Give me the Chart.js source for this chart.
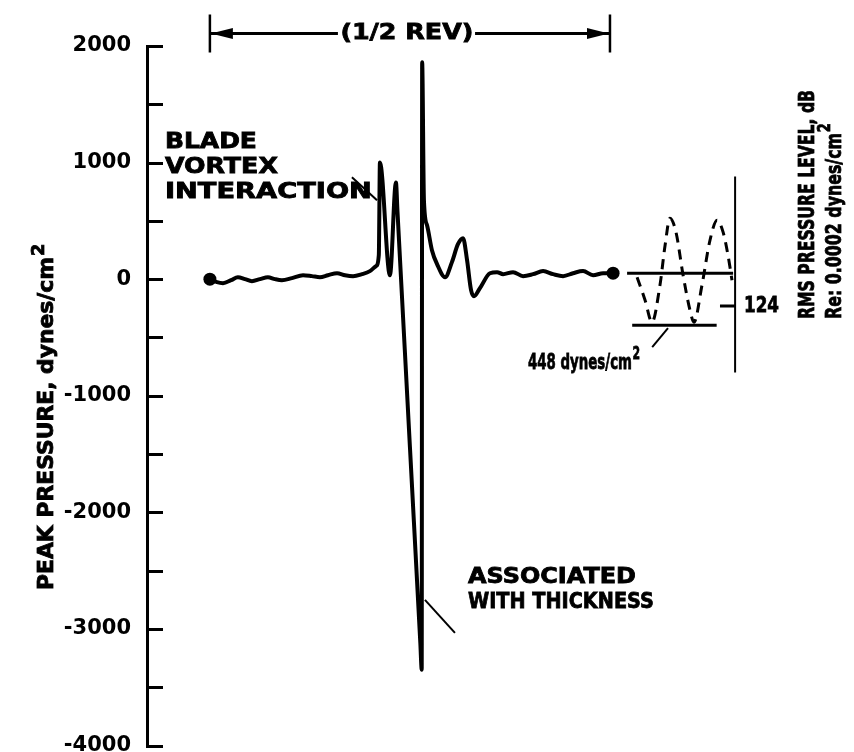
<!DOCTYPE html>
<html>
<head>
<meta charset="utf-8">
<script src="https://cdn.jsdelivr.net/npm/chart.js@4.4.1/dist/chart.umd.min.js"></script>
<style>
  html, body { margin: 0; padding: 0; background: #fff; }
</style>
</head>
<body>
<canvas id="c" width="854" height="752"></canvas>
<script>
/* ---- Data: x = azimuth (deg, 0..180 = 1/2 rev), y = peak pressure (dynes/cm2) ---- */
const waveDeg = [0, 3.2, 5.9, 9.5, 12.6, 15.8, 18.9, 22.5, 26.1, 29.3, 32.4, 36.9, 41.9, 45.9,
  49.5, 53.1, 57.2, 60.8, 64.4, 68.4, 72, 74.7, 76, 76.5, 81, 83.7, 84.4, 90, 94.7, 95.3, 95.5,
  96.3, 97.7, 99.9, 102.2, 105.8, 108.9, 111.6, 113.9, 115.7, 117.5, 118.8, 121.5, 126, 129.2,
  131.9, 136.4, 140.9, 145.4, 149.9, 154.4, 158.9, 163.4, 167.9, 172.4, 176.9, 181.4];
const wavePressure = [0, -26, -34, -9, 17, 0, -17, 0, 17, 0, -9, 9, 34, 26,
  17, 34, 51, 34, 26, 43, 69, 111, 206, 1000, 34, 830, 580, -1440, -3130, -3350, 1860,
  677, 463, 249, 129, 17, 146, 300, 351, 163, -94, -146, -77, 51, 60,
  43, 60, 26, 43, 69, 43, 26, 51, 69, 34, 51, 51];

// end markers of the half revolution trace
const dotDeg = [0, 181.4];
const dotPressure = [0, 51];

// RMS inset: sine of the same rms level, its peak lines and the dB scale
const sineDeg = [192.2, 195.8, 198.9, 202.5, 204.8, 207, 209.7, 212.9, 216, 217.8,
  221.4, 225, 228.2, 230.9, 233.1, 234.9];
const sinePressure = [17, -180, -369, -51, 291, 523, 403, 34, -266, -369,
  -51, 334, 506, 403, 206, -9];
const rmsUpperDeg = [187.7, 235.4];
const rmsUpperPressure = [50, 50];
const rmsLowerDeg = [190, 228];
const rmsLowerPressure = [-395, -395];
const dbScaleDeg = [236.3, 236.3];
const dbScalePressure = [880, -800];
const db124Deg = [229.5, 236.3];
const db124Pressure = [-230, -230];

// leader lines of the notes
const leaderBviDeg = [63.9, 75.2];
const leaderBviPressure = [874, 677];
const leaderThickDeg = [96.75, 110.25];
const leaderThickPressure = [-2751, -3034];
const leader448Deg = [199, 206.1];
const leader448Pressure = [-582, -420];

// "(1/2 REV)" dimension
const revDeg = [0, 180];
const revGapDeg = [57.6, 119.3];
const revLevel = 2108;
const revBar = [2271, 1945];

// y axis
const yMin = -4000;
const yMax = 2000;
const yStep = 500;
const yLabels = [2000, 1000, 0, -1000, -2000, -3000, -4000];

const FONT = '"DejaVu Sans", "Liberation Sans", sans-serif';

function pts(xs, ys) {
  return xs.map((x, i) => ({ x, y: ys[i] }));
}

function seg(xs, ys, width, extra = {}) {
  return Object.assign({
    data: pts(xs, ys),
    borderColor: "#000",
    borderWidth: width,
    pointRadius: 0,
    fill: false,
    tension: 0,
  }, extra);
}

/* draw a label stretched to a given width (scanned lettering is wide and heavy) */
function drawLabel(ctx, text, x, y, width, opts = {}) {
  const size = opts.size || 20;
  ctx.save();
  ctx.translate(x, y);
  if (opts.rotate) ctx.rotate(-Math.PI / 2);
  ctx.font = `bold ${size}px ${FONT}`;
  ctx.textBaseline = "middle";
  ctx.textAlign = "left";
  ctx.fillStyle = "#000";
  ctx.strokeStyle = "#000";
  ctx.lineWidth = 0.8;
  const w = ctx.measureText(text).width;
  ctx.scale(width / w, 1);
  ctx.fillText(text, 0, 0);
  ctx.strokeText(text, 0, 0);
  if (opts.sup) {
    ctx.font = `bold ${Math.round(size * 0.8)}px ${FONT}`;
    ctx.fillText(opts.sup, w + 1, -size * 0.42);
    ctx.strokeText(opts.sup, w + 1, -size * 0.42);
  }
  ctx.restore();
}

const notesPlugin = {
  id: "notes",
  afterDraw(chart) {
    const { ctx, chartArea: area } = chart;
    const xs = chart.scales.x;
    const ys = chart.scales.y;
    const X = (v) => xs.getPixelForValue(v);
    const Y = (v) => ys.getPixelForValue(v);

    // tick marks inside the axis, every 500
    ctx.save();
    ctx.strokeStyle = "#000";
    ctx.lineWidth = 3;
    ys.ticks.forEach((t) => {
      const py = Math.round(Y(t.value)) + 0.5;
      ctx.beginPath();
      ctx.moveTo(area.left - 1, py);
      ctx.lineTo(area.left + 16, py);
      ctx.stroke();
    });

    // arrowheads of the 1/2 rev dimension
    const py = Y(revLevel);
    const l = X(revDeg[0]);
    const r = X(revDeg[1]);
    ctx.fillStyle = "#000";
    ctx.beginPath();
    ctx.moveTo(l + 1, py);
    ctx.lineTo(l + 23, py - 5.5);
    ctx.lineTo(l + 23, py + 5.5);
    ctx.closePath();
    ctx.fill();
    ctx.beginPath();
    ctx.moveTo(r - 1, py);
    ctx.lineTo(r - 23, py - 5.5);
    ctx.lineTo(r - 23, py + 5.5);
    ctx.closePath();
    ctx.fill();
    ctx.restore();

    drawLabel(ctx, "(1/2 REV)", X(88.4) - 66, Y(revLevel), 133, { size: 21 });
    drawLabel(ctx, "BLADE", X(-20.25), Y(1170), 92, { size: 21 });
    drawLabel(ctx, "VORTEX", X(-20.25), Y(955), 113, { size: 21 });
    drawLabel(ctx, "INTERACTION", X(-20.25), Y(741), 207, { size: 21 });
    drawLabel(ctx, "ASSOCIATED", X(116.1), Y(-2562), 168, { size: 21 });
    drawLabel(ctx, "WITH THICKNESS", X(116.1), Y(-2777), 186, { size: 21 });
    drawLabel(ctx, "124", X(240.3), Y(-231), 35, { size: 22 });
    drawLabel(ctx, "448 dynes/cm", X(143.1), Y(-720), 104, { size: 22, sup: "2" });

    // axis titles
    drawLabel(ctx, "PEAK PRESSURE, dynes/cm", 48, 590, 333, { rotate: true, size: 21, sup: "2" });
    drawLabel(ctx, "RMS PRESSURE LEVEL, dB", 808, 319, 229, { rotate: true, size: 22 });
    drawLabel(ctx, "Re: 0.0002 dynes/cm", 835, 319, 186, { rotate: true, size: 22, sup: "2" });
  },
};

new Chart(document.getElementById("c"), {
  type: "line",
  data: {
    datasets: [
      seg(waveDeg, wavePressure, 4, { cubicInterpolationMode: "monotone" }),
      seg(dotDeg, dotPressure, 0, { showLine: false, pointRadius: 6.5, pointBackgroundColor: "#000", pointBorderWidth: 0 }),
      seg(sineDeg, sinePressure, 3, { borderDash: [10, 7], cubicInterpolationMode: "monotone" }),
      seg(rmsUpperDeg, rmsUpperPressure, 3),
      seg(rmsLowerDeg, rmsLowerPressure, 3),
      seg(dbScaleDeg, dbScalePressure, 2),
      seg(db124Deg, db124Pressure, 3),
      seg(leaderBviDeg, leaderBviPressure, 2),
      seg(leaderThickDeg, leaderThickPressure, 2),
      seg(leader448Deg, leader448Pressure, 2),
      seg([revDeg[0], revGapDeg[0]], [revLevel, revLevel], 3, { clip: false }),
      seg([revGapDeg[1], revDeg[1]], [revLevel, revLevel], 3, { clip: false }),
      seg([revDeg[0], revDeg[0]], revBar, 2.5, { clip: false }),
      seg([revDeg[1], revDeg[1]], revBar, 2.5, { clip: false }),
    ],
  },
  options: {
    responsive: false,
    animation: false,
    layout: { padding: { top: 46, bottom: 6, left: 0, right: 64 } },
    plugins: { legend: { display: false }, tooltip: { enabled: false } },
    scales: {
      x: { type: "linear", display: false, min: -28.3, max: 261 },
      y: {
        type: "linear",
        min: yMin,
        max: yMax,
        grid: { display: false },
        border: { display: true, color: "#000", width: 3 },
        ticks: {
          stepSize: yStep,
          padding: 8,
          color: "#000",
          font: { family: FONT, size: 21, weight: "bold" },
          callback: (v) => (yLabels.includes(v) ? String(v) : ""),
        },
        afterFit: (s) => {
          s.width = 147;
          s.paddingTop = 0;
          s.paddingBottom = 0;
        },
      },
    },
  },
  plugins: [notesPlugin],
});
</script>
</body>
</html>
